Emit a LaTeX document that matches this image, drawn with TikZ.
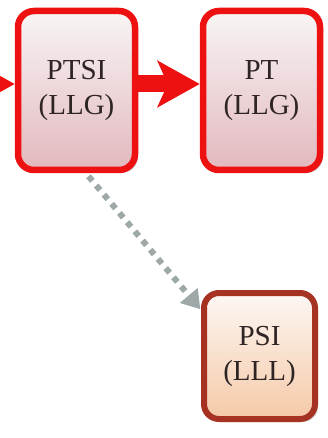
\documentclass[tikz,border=0pt]{standalone}
\usepackage{fontspec}
\setmainfont{Liberation Serif}
\usetikzlibrary{shadows,arrows.meta}
\definecolor{redborder}{HTML}{EE1111}
\definecolor{redtop}{HTML}{F8F5F5}
\definecolor{redbot}{HTML}{E2B8BE}
\definecolor{brownborder}{HTML}{A63222}
\definecolor{peachtop}{HTML}{FDF7F3}
\definecolor{peachbot}{HTML}{F5C9A8}
\definecolor{textcol}{HTML}{2E2424}
\definecolor{dotgray}{HTML}{9EA8A8}
\begin{document}
\begin{tikzpicture}[x=1pt,y=-1pt,
  boxtext/.style={align=center, text=textcol, font=\fontsize{29}{35}\selectfont},
  redbox/.style={boxtext, draw=redborder, line width=6.5pt, rounded corners=16pt,
    top color=redtop, bottom color=redbot, minimum width=117pt, minimum height=159pt,
    drop shadow={opacity=0.35, shadow xshift=3pt, shadow yshift=-3pt}},
  brownbox/.style={boxtext, draw=brownborder, line width=6pt, rounded corners=15pt,
    top color=peachtop, bottom color=peachbot, minimum width=111pt, minimum height=126pt,
    drop shadow={opacity=0.35, shadow xshift=3pt, shadow yshift=-3pt}},
  bigarrow/.style={draw=redborder, line width=17pt,
    -{Stealth[length=42pt, width=46pt, inset=10pt, fill=redborder]}},
  dotarrow/.style={draw=dotgray, line width=6pt, dash pattern=on 6pt off 6pt,
    -{Triangle[length=18pt, width=22pt, fill=dotgray]}, shorten >=1pt}
]
\useasboundingbox (0,0) rectangle (327,438);
\node[redbox] (ptsi) at (76.5,90.5) {PTSI\\(LLG)};
\node[redbox] (pt) at (261.5,90.5) {PT\\(LLG)};
\node[brownbox] (psi) at (259.5,356) {PSI\\(LLL)};
\coordinate (in) at (-40,84);
\draw[bigarrow] (in) -- ([yshift=6.5pt]ptsi.west);
\draw[bigarrow] ([yshift=6.5pt]ptsi.east) -- ([yshift=6.5pt]pt.west);
\draw[dotarrow] ([xshift=12pt,yshift=-3pt]ptsi.south) -- ([yshift=-20pt]psi.north west);
\end{tikzpicture}
\end{document}
